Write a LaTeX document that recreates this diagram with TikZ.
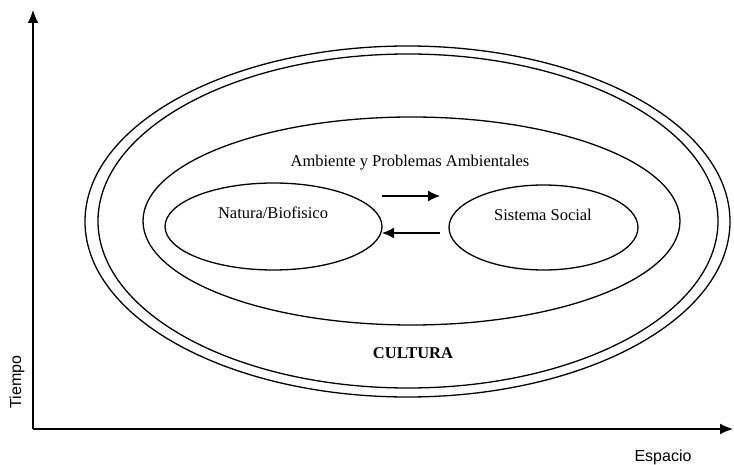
\documentclass[tikz,border=0pt]{standalone}
\usepackage{fontspec}
\setmainfont{Liberation Serif}
\newfontfamily\axisfont{Liberation Sans}
\usetikzlibrary{shapes.geometric,arrows.meta}

\begin{document}
\begin{tikzpicture}[x=1pt,y=-1pt,
    elli/.style={ellipse,draw,line width=1.3pt,inner sep=0pt,outer sep=0pt},
    axis/.style={line width=1.6pt,-{Latex[length=13pt,width=11pt]}},
    flow/.style={line width=1.3pt,-{Latex[length=12pt,width=11pt]}},
    lbl/.style={font=\fontsize{16.5}{19}\selectfont,inner sep=0pt}]
    \useasboundingbox (0,0) rectangle (734,465);

    % axes
    \coordinate (o) at (33,429);
    \coordinate (ytop) at (33,10);
    \coordinate (xend) at (733,429);
    \draw[axis] (o) -- (ytop);
    \draw[axis] (o) -- (xend);
    \node [lbl,font=\fontsize{16}{19}\selectfont\axisfont,rotate=90] (tiempo) at (17,382) {Tiempo};
    \node [lbl,font=\fontsize{16}{19}\selectfont\axisfont] (espacio) at (663,457) {Espacio};

    % ellipses
    \node [elli,minimum width=645pt,minimum height=351pt] (cult) at (407.5,221.5) {};
    \node [elli,minimum width=620pt,minimum height=334pt] (cultin) at (408,221) {};
    \node [elli,minimum width=537pt,minimum height=208pt] (amb) at (411.5,221) {};
    \node [elli,minimum width=217pt,minimum height=87pt] (nat) at (273.5,226.5) {};
    \node [elli,minimum width=189pt,minimum height=85pt] (soc) at (543.5,227.5) {};

    % labels
    \node [lbl] (ambl) at (410,163) {Ambiente y Problemas Ambientales};
    \node [lbl] (natl) at (273,213) {Natura/Biofisico};
    \node [lbl] (socl) at (543,215) {Sistema Social};
    \node [lbl,font=\fontsize{16.5}{19}\selectfont\bfseries] (cultl) at (413,353) {CULTURA};

    % exchange
    \draw[flow] ([yshift=30.5pt]nat.east) -- ([xshift=-9pt,yshift=31.5pt]soc.west);
    \draw[flow] ([xshift=-9pt,yshift=-5.5pt]soc.west) -- ([yshift=-6.5pt]nat.east);
\end{tikzpicture}
\end{document}
